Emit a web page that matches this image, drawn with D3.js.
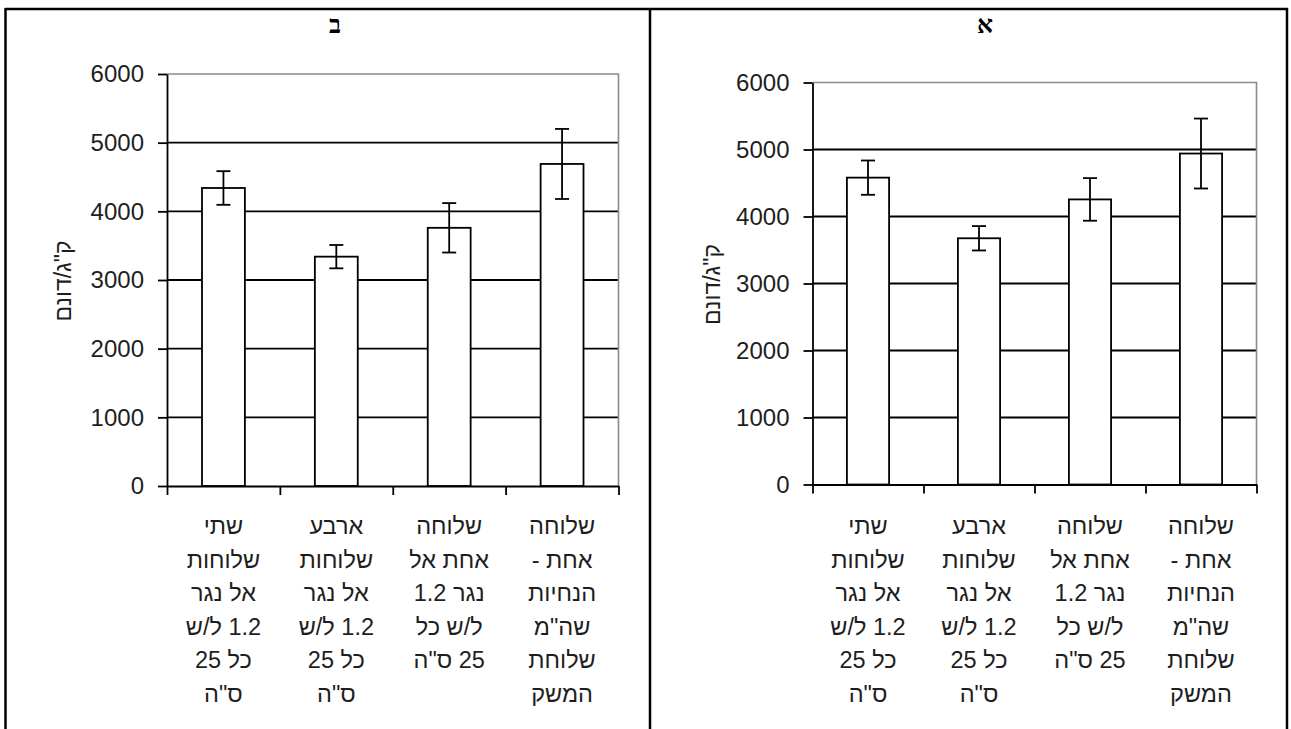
<!DOCTYPE html>
<html lang="he">
<head>
<meta charset="utf-8">
<script src="https://cdn.jsdelivr.net/npm/d3@7"></script>
<style>
  html, body { margin: 0; padding: 0; background: #fff; }
  svg { display: block; }
</style>
</head>
<body>
<svg id="chart" width="1291" height="729"></svg>
<script>
// Treatment categories (each label wrapped into lines as printed under the axis)
const categories = ["c1", "c2", "c3", "c4"];
const categoryLines = [
  ["שתי", "שלוחות", "אל נגר", "1.2 ל/ש", "כל 25", "ס\"ה"],
  ["ארבע", "שלוחות", "אל נגר", "1.2 ל/ש", "כל 25", "ס\"ה"],
  ["שלוחה", "אחת אל", "נגר 1.2", "ל/ש כל", "25 ס\"ה"],
  ["שלוחה", "אחת -", "הנחיות", "שה\"מ", "שלוחת", "המשק"]
];

// Panel ב – yield (kg/dunam) and error-bar half-widths
const valuesB = [4340, 3340, 3760, 4690];
const errorsB = [245, 170, 360, 510];

// Panel א – yield (kg/dunam) and error-bar half-widths
const valuesA = [4580, 3675, 4255, 4940];
const errorsA = [256, 182, 318, 522];

const yTicks = [0, 1000, 2000, 3000, 4000, 5000, 6000];
const yLabel = "ק\"ג/דונם";
const titles = ["ב", "א"];

const svg = d3.select("#chart");

// table frame around the two panels
const frame = svg.append("g").attr("stroke", "#000").attr("stroke-width", 2.5);
frame.append("line").attr("x1", 5).attr("x2", 1288).attr("y1", 9).attr("y2", 9);
[5.5, 650, 1287].forEach(x => {
  frame.append("line").attr("x1", x).attr("x2", x).attr("y1", 8).attr("y2", 729);
});

const panels = [
  { title: titles[0], titleX: 335, left: 167, right: 618.5, top: 74, bottom: 486, labelX: 63,
    values: valuesB, errors: errorsB },
  { title: titles[1], titleX: 985, left: 812.5, right: 1256.5, top: 82.5, bottom: 484.5, labelX: 712,
    values: valuesA, errors: errorsA }
];

const FONT = "'Liberation Sans', Arial, 'DejaVu Sans', sans-serif";

panels.forEach(p => {
  const g = svg.append("g");

  // panel title
  g.append("text")
    .attr("x", p.titleX).attr("y", 33)
    .attr("text-anchor", "middle")
    .attr("direction", "rtl")
    .style("font-family", "'Liberation Serif', 'Times New Roman', serif")
    .style("font-size", "25px")
    .style("font-weight", "bold")
    .attr("fill", "#000")
    .text(p.title);

  const y = d3.scaleLinear().domain([0, 6000]).range([p.bottom, p.top]);
  const x = d3.scaleBand().domain(categories).range([p.left, p.right])
    .paddingInner(0.62).paddingOuter(0.31);
  const xEdge = d3.scaleLinear().domain([0, categories.length]).range([p.left, p.right]);

  // gridlines
  g.append("g").selectAll("line")
    .data(yTicks.filter(t => t > 0 && t < 6000))
    .join("line")
    .attr("x1", p.left).attr("x2", p.right)
    .attr("y1", d => y(d)).attr("y2", d => y(d))
    .attr("stroke", "#000").attr("stroke-width", 1.8);

  // plot-area frame (top and right, gray)
  g.append("path")
    .attr("d", `M${p.left},${y(6000)}H${p.right}V${y(0)}`)
    .attr("fill", "none").attr("stroke", "#8a8a8a").attr("stroke-width", 1.6);

  // bars
  g.append("g").selectAll("rect")
    .data(p.values)
    .join("rect")
    .attr("x", (d, i) => x(categories[i]))
    .attr("width", x.bandwidth())
    .attr("y", d => y(d))
    .attr("height", d => y(0) - y(d))
    .attr("fill", "#fff").attr("stroke", "#000").attr("stroke-width", 1.8);

  // error bars
  const eb = g.append("g").attr("stroke", "#000").attr("stroke-width", 1.8);
  p.values.forEach((v, i) => {
    const cx = x(categories[i]) + x.bandwidth() / 2;
    const hi = y(v + p.errors[i]), lo = y(v - p.errors[i]);
    eb.append("line").attr("x1", cx).attr("x2", cx).attr("y1", hi).attr("y2", lo);
    eb.append("line").attr("x1", cx - 7).attr("x2", cx + 7).attr("y1", hi).attr("y2", hi);
    eb.append("line").attr("x1", cx - 7).attr("x2", cx + 7).attr("y1", lo).attr("y2", lo);
  });

  // y axis
  const yAxis = g.append("g")
    .attr("transform", `translate(${p.left},0)`)
    .call(d3.axisLeft(y).tickValues(yTicks).tickFormat(d3.format("d"))
      .tickSize(9).tickPadding(14).tickSizeOuter(0));
  yAxis.select(".domain").attr("stroke", "#000").attr("stroke-width", 1.8);
  yAxis.selectAll(".tick line").attr("stroke", "#000").attr("stroke-width", 1.8);
  yAxis.selectAll(".tick text")
    .style("font-family", FONT).style("font-size", "24px").attr("fill", "#1e1e1e");

  // x axis with ticks at category boundaries
  const xAxis = g.append("g")
    .attr("transform", `translate(0,${p.bottom})`)
    .call(d3.axisBottom(xEdge).tickValues(d3.range(categories.length + 1))
      .tickFormat("").tickSize(9).tickSizeOuter(0));
  xAxis.select(".domain").attr("stroke", "#000").attr("stroke-width", 1.8);
  xAxis.selectAll(".tick line").attr("stroke", "#000").attr("stroke-width", 1.8);

  // category labels
  categories.forEach((c, i) => {
    const t = g.append("text")
      .attr("x", x(c) + x.bandwidth() / 2)
      .attr("y", 534)
      .attr("text-anchor", "middle")
      .attr("direction", "rtl")
      .style("font-family", FONT).style("font-size", "23.5px")
      .attr("fill", "#1e1e1e");
    categoryLines[i].forEach((line, k) => {
      t.append("tspan")
        .attr("x", x(c) + x.bandwidth() / 2)
        .attr("y", 534 + k * 33.5)
        .text(line);
    });
  });

  // y axis title
  g.append("text")
    .attr("transform", `translate(${p.labelX},${(p.top + p.bottom) / 2 + 1}) rotate(-90)`)
    .attr("text-anchor", "middle")
    .attr("dy", "0.35em")
    .attr("direction", "rtl")
    .style("font-family", FONT).style("font-size", "23px")
    .attr("fill", "#1e1e1e")
    .text(yLabel);
});
</script>
</body>
</html>
